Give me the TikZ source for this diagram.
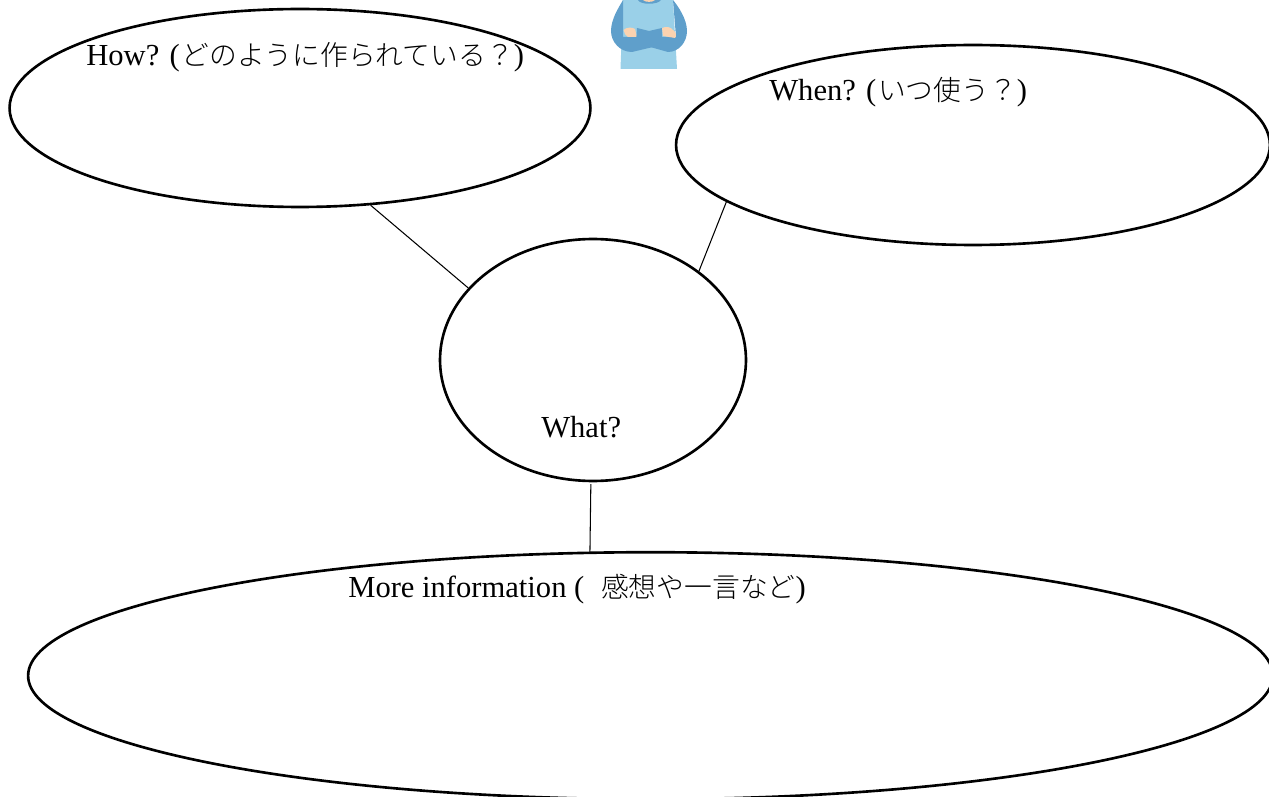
\documentclass[tikz,border=0pt]{standalone}
\usepackage{fontspec}
\usetikzlibrary{shapes.geometric}
\setmainfont{Liberation Serif}
\newfontfamily\cjk[UprightFont=* Light]{Noto Sans CJK JP}
\newcommand{\jp}[1]{\kern1pt{\fontsize{15.8}{18}\cjk #1}}
\definecolor{shirtblue}{RGB}{154,208,232}
\definecolor{sleeveblue}{RGB}{95,159,203}
\definecolor{skintone}{RGB}{252,211,176}
\tikzset{
  bubble/.style={draw, ellipse, line width=1.5pt, inner sep=0pt},
  link/.style={draw, line width=0.6pt},
  caption/.style={anchor=west, inner sep=0pt, font=\fontsize{17.4}{20}\selectfont}
}
\begin{document}
\begin{tikzpicture}[x=0.02cm, y=-0.02cm]
\useasboundingbox (0,0) rectangle (1269,797);
% Ellipses
\node[bubble, minimum width=11.62cm, minimum height=3.96cm] (how) at (300,108) {};
\node[bubble, minimum width=11.88cm, minimum height=4cm] (when) at (973,145) {};
\node[bubble, minimum width=6.12cm, minimum height=4.84cm] (what) at (593,360) {};
\node[bubble, minimum width=24.9cm, minimum height=4.94cm] (more) at (650.5,675.7) {};
% Connectors
\draw[link] (how.-54.2) -- (what.150.5);
\draw[link] (when.193.4) -- (what.40);
\draw[link, shorten <=1.1pt] (what.-91.4) -- (more.116.3);
% Labels
\node[caption] (howtext) at (86,57.5) {How? (\jp{どのように作られている？})};
\node[caption] (whentext) at (769,92.5) {When? (\jp{いつ使う？})};
\node[caption] (whattext) at (541,427.5) {What?};
\node[caption] (moretext) at (348,589.5) {More information (\kern9.6pt{\fontsize{15.8}{18}\cjk 感想や一言など})};
% Person with folded arms
\fill[shirtblue] (623,0) -- (673,0) -- (677,69) -- (620.5,69) -- cycle;
\fill[sleeveblue] (638,0) .. controls (640,5) and (658,5) .. (661,0) -- cycle;
\fill[skintone] (643,0) .. controls (645,2.5) and (653,2.5) .. (655,0) -- cycle;
\fill[sleeveblue] (623,0) .. controls (619,7) and (611,19) .. (611,31)
  .. controls (611,42) and (620,52) .. (632,52) -- (653,47) -- (662,38) -- (662,28)
  -- (649,31) -- (636,37) -- (623,37) -- cycle;
\fill[skintone] (623.5,30) .. controls (626,27) and (633,27) .. (635,29) -- (637,37) -- (628,37)
  .. controls (626,36) and (624,33) .. (623.5,30) -- cycle;
\fill[sleeveblue] (673,0) .. controls (678,6) and (687,19) .. (687,31)
  .. controls (687,42) and (679,52) .. (668,52) -- (636,43) -- (637,28)
  -- (649,31) -- (661,37) -- (676,37) -- cycle;
\fill[skintone] (662,28) .. controls (666,26) and (671,27) .. (673,30)
  .. controls (676,32) and (677,36) .. (675,38) -- (663,36) -- cycle;
\end{tikzpicture}
\end{document}
